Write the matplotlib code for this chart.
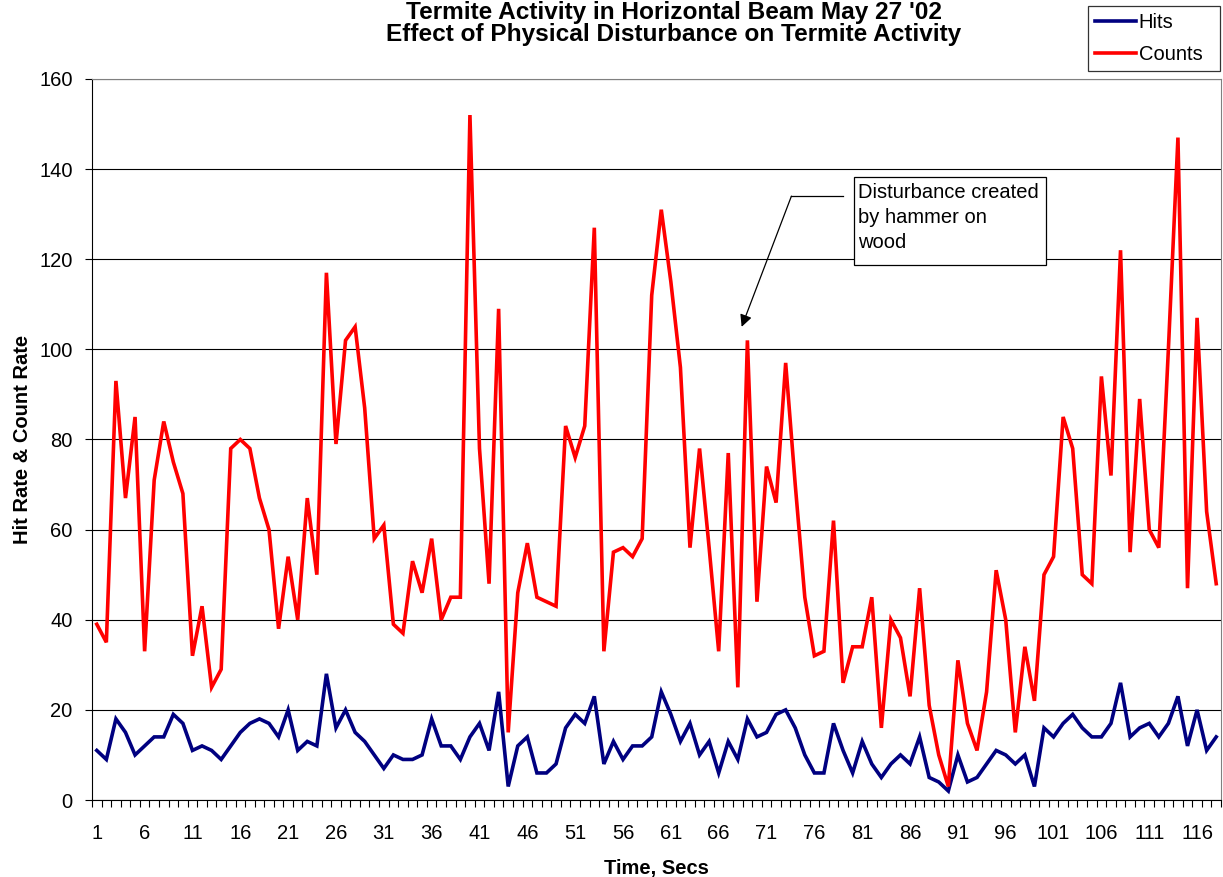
import matplotlib
matplotlib.use("Agg")
import matplotlib.pyplot as plt
from matplotlib.patches import Rectangle
import numpy as np

plt.rcParams['font.family'] = ['Liberation Sans', 'DejaVu Sans']

# readings per second, 118 seconds
hits = [11, 9, 18, 15, 10, 12, 14, 14, 19, 17,
        11, 12, 11, 9, 12, 15, 17, 18, 17, 14,
        20, 11, 13, 12, 28, 16, 20, 15, 13, 10,
        7, 10, 9, 9, 10, 18, 12, 12, 9, 14,
        17, 11, 24, 3, 12, 14, 6, 6, 8, 16,
        19, 17, 23, 8, 13, 9, 12, 12, 14, 24,
        19, 13, 17, 10, 13, 6, 13, 9, 18, 14,
        15, 19, 20, 16, 10, 6, 6, 17, 11, 6,
        13, 8, 5, 8, 10, 8, 14, 5, 4, 2,
        10, 4, 5, 8, 11, 10, 8, 10, 3, 16,
        14, 17, 19, 16, 14, 14, 17, 26, 14, 16,
        17, 14, 17, 23, 12, 20, 11, 14]

counts = [39, 35, 93, 67, 85, 33, 71, 84, 75, 68,
          32, 43, 25, 29, 78, 80, 78, 67, 60, 38,
          54, 40, 67, 50, 117, 79, 102, 105, 87, 58,
          61, 39, 37, 53, 46, 58, 40, 45, 45, 152,
          78, 48, 109, 15, 46, 57, 45, 44, 43, 83,
          76, 83, 127, 33, 55, 56, 54, 58, 112, 131,
          115, 96, 56, 78, 56, 33, 77, 25, 102, 44,
          74, 66, 97, 70, 45, 32, 33, 62, 26, 34,
          34, 45, 16, 40, 36, 23, 47, 21, 10, 3,
          31, 17, 11, 24, 51, 40, 15, 34, 22, 50,
          54, 85, 78, 50, 48, 94, 72, 122, 55, 89,
          60, 56, 100, 147, 47, 107, 64, 48]

secs = np.arange(1, len(hits) + 1)
tick_labels = [str(s) for s in secs[::5]]

fs = 14.5

fig = plt.figure(figsize=(12.23, 8.77), dpi=100)
ax = fig.add_axes([92/1223, 1 - 800/877, (1221 - 92)/1223, (800 - 79)/877])

ax.plot(secs, hits, color='#000080', lw=2.6, label='Hits', solid_joinstyle='miter')
ax.plot(secs, counts, color='#FF0000', lw=2.6, label='Counts', solid_joinstyle='miter')

ax.set_xlim(0.5, len(secs) + 0.5)
ax.set_ylim(0, 160)
ax.set_yticks(np.arange(0, 161, 20))
ax.yaxis.grid(True, color='black', lw=0.8)
ax.set_axisbelow(True)

ax.set_xticks(secs[::5])
ax.set_xticklabels(tick_labels)
ax.set_xticks(np.arange(0.5, len(secs) + 1, 1), minor=True)
ax.tick_params(axis='x', which='major', length=0, pad=17, labelsize=fs)
ax.tick_params(axis='x', which='minor', length=5, width=0.8, direction='out')
ax.tick_params(axis='y', length=5, width=0.8, pad=9, labelsize=fs)

ax.spines['top'].set_color('#808080')
ax.spines['right'].set_color('#808080')
for s in ['left', 'bottom']:
    ax.spines[s].set_color('black')

ax.set_xlabel('Time, Secs', fontsize=fs, fontweight='bold', labelpad=12)
ax.set_ylabel('Hit Rate & Count Rate', fontsize=fs, fontweight='bold', labelpad=5)

fig.text(674/1223, 1 - 1/877, "Termite Activity in Horizontal Beam May 27 '02",
         ha='center', va='top', fontsize=17.6, fontweight='bold')
fig.text(674/1223, 1 - 35/877, "Effect of Physical Disturbance on Termite Activity",
         ha='center', va='center', fontsize=17.6, fontweight='bold')

leg = fig.legend(loc='upper left', mode='expand',
                 bbox_to_anchor=(1088/1223, 1 - 68/877, 132/1223, 62/877),
                 fontsize=fs, frameon=True, fancybox=False, handlelength=2.0,
                 handletextpad=0.15, borderpad=0.36, labelspacing=0.62,
                 borderaxespad=0)
leg.get_frame().set_edgecolor('black')
leg.get_frame().set_linewidth(0.9)

# annotation box with elbow arrow
ax.add_patch(Rectangle((80.1, 118.7), 20.1, 19.6, facecolor='white',
                       edgecolor='black', lw=0.9, zorder=5))
ax.text(80.6, 137.0, "Disturbance created\nby hammer on\nwood", fontsize=fs,
        ha='left', va='top', zorder=6, linespacing=1.4)
ax.plot([73.6, 79.0], [134, 134], color='black', lw=0.9, zorder=5)
ax.annotate('', xy=(68.4, 105), xytext=(73.6, 134),
            arrowprops=dict(arrowstyle='-|>', color='black', lw=0.9,
                            mutation_scale=18, shrinkA=0, shrinkB=0), zorder=5)

fig.savefig('out.png', dpi=100)
